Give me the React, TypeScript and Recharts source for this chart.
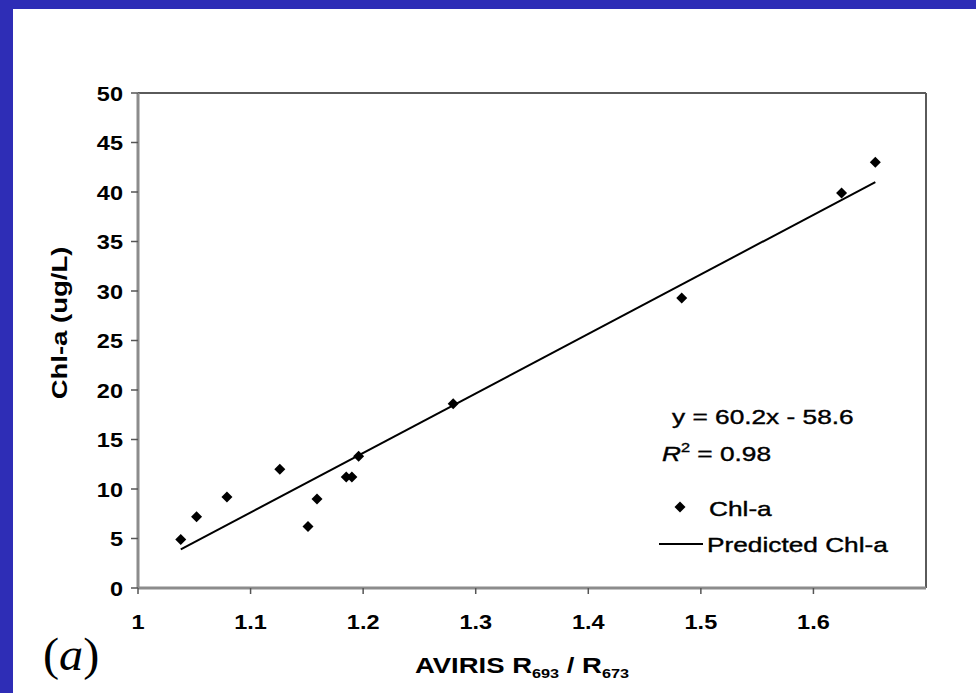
import React from 'react';
import {
  ScatterChart,
  Scatter,
  XAxis,
  YAxis,
  ReferenceLine
} from 'recharts';

// measured Chl-a samples
const ratioX = [1.038, 1.052, 1.079, 1.126, 1.151, 1.159, 1.185, 1.190, 1.196, 1.280, 1.483, 1.625, 1.655];
const chlY = [4.9, 7.2, 9.2, 12.0, 6.2, 9.0, 11.2, 11.2, 13.3, 18.6, 29.3, 39.9, 43.0];

// predicted line end points
const fitX = [1.038, 1.655];
const fitY = [3.9, 41.0];

const xTicks = [1, 1.1, 1.2, 1.3, 1.4, 1.5, 1.6];
const yTicks = [0, 5, 10, 15, 20, 25, 30, 35, 40, 45, 50];

const points = ratioX.map((x, i) => ({ x, y: chlY[i] }));
const fitLine = fitX.map((x, i) => ({ x, y: fitY[i] }));

const SX = 1.25;
const TICK_SX = 1.12;
const FONT = 'Liberation Sans, Arial, sans-serif';

const YTick = (props: any) => (
  <g transform={`translate(${props.x},${props.y})`}>
    <text transform={`scale(${TICK_SX},1)`} textAnchor="end" dy="0.36em" fontFamily={FONT} fontWeight="bold" fontSize={21} fill="#000">
      {props.payload.value}
    </text>
  </g>
);

const XTick = (props: any) => (
  <g transform={`translate(${props.x},${props.y})`}>
    <text transform={`scale(${TICK_SX},1)`} textAnchor="middle" y={33} fontFamily={FONT} fontWeight="bold" fontSize={21} fill="#000">
      {props.payload.value}
    </text>
  </g>
);

const Diamond = (props: any) => {
  const { cx, cy } = props;
  const r = 5.5;
  return <polygon points={`${cx},${cy - r} ${cx + r},${cy} ${cx},${cy + r} ${cx - r},${cy}`} fill="#000" />;
};

const NoShape = () => <g />;

export default function App() {
  return (
    <div style={{ position: 'absolute', left: 0, top: 0, width: 976, height: 693, background: '#2e2db6', overflow: 'hidden' }}>
      <div style={{ position: 'absolute', left: 13, top: 9, width: 963, height: 684, background: '#fff' }} />
      <div style={{ position: 'absolute', left: 0, top: 0 }}>
        <ScatterChart width={976} height={693} margin={{ top: 93, right: 50, bottom: 75, left: 108 }}>
          <XAxis
            type="number"
            dataKey="x"
            domain={[1, 1.7]}
            ticks={xTicks}
            height={30}
            allowDataOverflow
            axisLine={{ stroke: '#8c8c8c', strokeWidth: 3 }}
            tickSize={6}
            tickLine={{ stroke: '#555', strokeWidth: 1.5 }}
            tick={<XTick />}
          />
          <YAxis
            type="number"
            dataKey="y"
            domain={[0, 50]}
            ticks={yTicks}
            width={30}
            allowDataOverflow
            axisLine={{ stroke: '#8c8c8c', strokeWidth: 3 }}
            tickSize={7}
            tickMargin={8}
            tickLine={{ stroke: '#555', strokeWidth: 1.5 }}
            tick={<YTick />}
          />
          <ReferenceLine y={50} stroke="#5a5a5a" strokeWidth={2} />
          <ReferenceLine x={1.7} stroke="#5a5a5a" strokeWidth={2} />
          <Scatter
            data={fitLine}
            line={{ stroke: '#000', strokeWidth: 2 }}
            lineType="joint"
            shape={<NoShape />}
            isAnimationActive={false}
          />
          <Scatter data={points} shape={<Diamond />} isAnimationActive={false} />
        </ScatterChart>
      </div>
      <svg width={976} height={693} style={{ position: 'absolute', left: 0, top: 0, pointerEvents: 'none' }}>
        <text transform={`translate(67,323) rotate(-90) scale(${SX},1)`} textAnchor="middle" fontFamily={FONT} fontWeight="bold" fontSize={22} fill="#000">
          Chl-a (ug/L)
        </text>
        <text transform={`translate(522,673) scale(${SX},1)`} textAnchor="middle" fontFamily={FONT} fontWeight="bold" fontSize={22} fill="#000">
          AVIRIS R<tspan fontSize={13} dy={5}>693</tspan><tspan dy={-5}> / R</tspan><tspan fontSize={13} dy={5}>673</tspan>
        </text>
        <text transform={`translate(672,424) scale(${SX},1)`} fontFamily={FONT} fontSize={21} fill="#000" stroke="#000" strokeWidth={0.4}>
          y = 60.2x - 58.6
        </text>
        <text transform={`translate(662,461) scale(${SX},1)`} fontFamily={FONT} fontSize={21} fill="#000" stroke="#000" strokeWidth={0.4}>
          <tspan fontStyle="italic">R</tspan><tspan fontSize={13} dy={-9}>2</tspan><tspan dy={9}> = 0.98</tspan>
        </text>
        <polygon points="680,501.5 685.5,507 680,512.5 674.5,507" fill="#000" />
        <text transform={`translate(709,516) scale(${SX},1)`} fontFamily={FONT} fontSize={21} fill="#000" stroke="#000" strokeWidth={0.4}>
          Chl-a
        </text>
        <line x1={659} y1={544} x2={703} y2={544} stroke="#000" strokeWidth={2} />
        <text transform={`translate(707,552) scale(${SX},1)`} fontFamily={FONT} fontSize={21} fill="#000" stroke="#000" strokeWidth={0.4}>
          Predicted Chl-a
        </text>
        <text transform="translate(43,670) scale(1.05,1)" fontFamily="Liberation Serif, Times New Roman, serif" fontSize={46} fill="#000">
          (<tspan fontStyle="italic">a</tspan>)
        </text>
      </svg>
    </div>
  );
}
